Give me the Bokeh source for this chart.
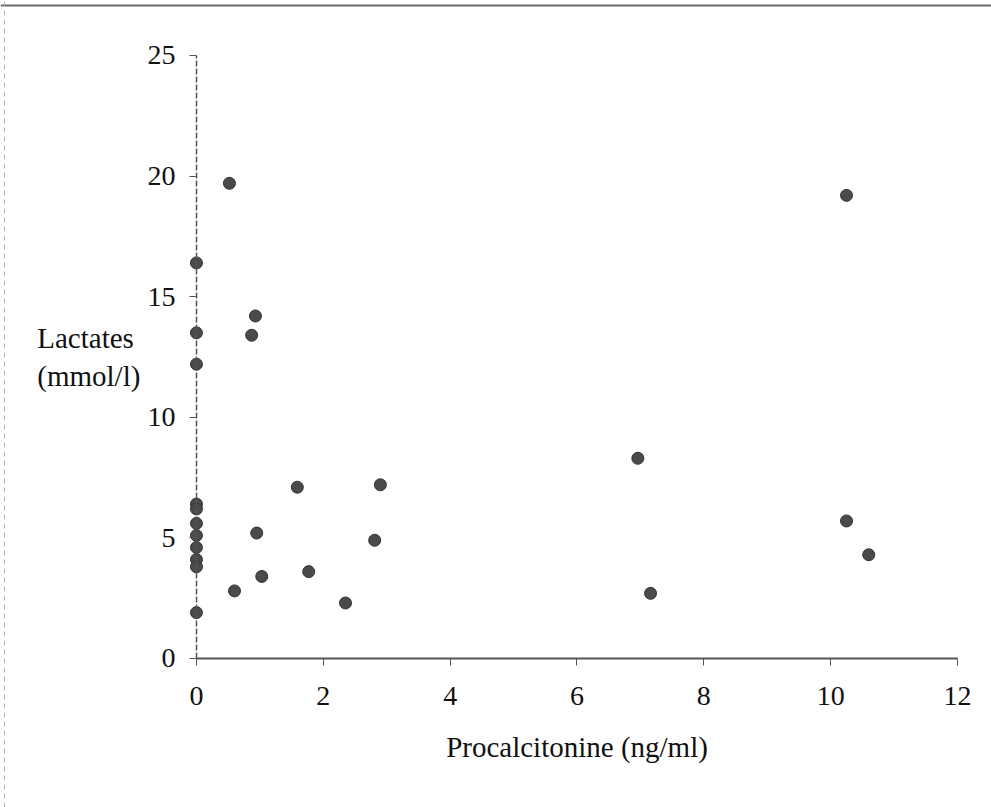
from bokeh.plotting import figure
from bokeh.models import Range1d, FixedTicker, Label, LinearAxis
from bokeh.embed import file_html
from bokeh.resources import INLINE

# Procalcitonine (ng/ml) and Lactates (mmol/l)
pct = [0, 0, 0, 0, 0, 0, 0, 0, 0, 0, 0,
       0.52, 0.93, 0.87, 0.60, 0.95, 1.03, 1.59, 1.77, 2.35, 2.81, 2.90,
       6.96, 7.16, 10.25, 10.25, 10.60]
lactates = [16.4, 13.5, 12.2, 6.4, 6.2, 5.6, 5.1, 4.6, 4.1, 3.8, 1.9,
            19.7, 14.2, 13.4, 2.8, 5.2, 3.4, 7.1, 3.6, 2.3, 4.9, 7.2,
            8.3, 2.7, 19.2, 5.7, 4.3]
x_ticks = [0, 2, 4, 6, 8, 10, 12]
y_ticks = [0, 5, 10, 15, 20, 25]
x_title = "Procalcitonine (ng/ml)"
y_title = ["Lactates", "(mmol/l)"]

FONT = "Liberation Serif"

# frame fills the whole canvas; axes sit at x=0 / y=0 so that the dots on x=0 are not cut
p = figure(width=991, height=807, output_backend="svg", toolbar_location=None,
           x_range=Range1d(-3.09, 12.536), y_range=Range1d(-6.18, 27.28),
           x_axis_location=None, y_axis_location=None, min_border=0)
p.outline_line_color = None
p.xgrid.visible = False
p.ygrid.visible = False
p.background_fill_color = "white"
p.border_fill_color = "white"

# scanned-page edges (top rule and dashed left rule): plain axis lines without ticks or labels
top_rule = LinearAxis(fixed_location=27.07, ticker=FixedTicker(ticks=[]),
                      major_tick_line_color=None, minor_tick_line_color=None,
                      axis_line_color="#6a6a6a", axis_line_width=2)
left_rule = LinearAxis(fixed_location=-3.03, ticker=FixedTicker(ticks=[]),
                       major_tick_line_color=None, minor_tick_line_color=None,
                       axis_line_color="#b0b0b0", axis_line_width=1, axis_line_dash="5 4")
p.add_layout(top_rule, "above")
p.add_layout(left_rule, "left")

xaxis = LinearAxis(fixed_location=0, bounds=(0, 12), ticker=FixedTicker(ticks=x_ticks))
yaxis = LinearAxis(fixed_location=0, bounds=(0, 25), ticker=FixedTicker(ticks=y_ticks))
p.add_layout(xaxis, "below")
p.add_layout(yaxis, "left")

for ax in (xaxis, yaxis):
    ax.major_label_text_font = FONT
    ax.major_label_text_font_size = "28px"
    ax.major_label_text_color = "#111111"
    ax.minor_tick_line_color = None
    ax.major_tick_in = 0
    ax.major_tick_out = 7
    ax.major_tick_line_color = "#555555"
    ax.axis_line_color = "#555555"

xaxis.axis_line_width = 2
yaxis.axis_line_width = 1.5
yaxis.axis_line_dash = "6 2"
xaxis.major_label_standoff = 22
yaxis.major_label_standoff = 14

xaxis.axis_label = x_title
xaxis.axis_label_text_font = FONT
xaxis.axis_label_text_font_size = "29px"
xaxis.axis_label_text_font_style = "normal"
xaxis.axis_label_standoff = 22
xaxis.axis_label_text_color = "#111111"

p.scatter(pct, lactates, size=12, fill_color="#4a4a4a", line_color="#333333", line_width=1)

for i, t in enumerate(y_title):
    p.add_layout(Label(x=-2.51, y=13.3 - 1.6 * i, text=t, text_font=FONT,
                       text_font_size="29px", text_align="left",
                       text_baseline="middle", text_color="#111111"))

open("out.html", "w").write(file_html(p, INLINE))
